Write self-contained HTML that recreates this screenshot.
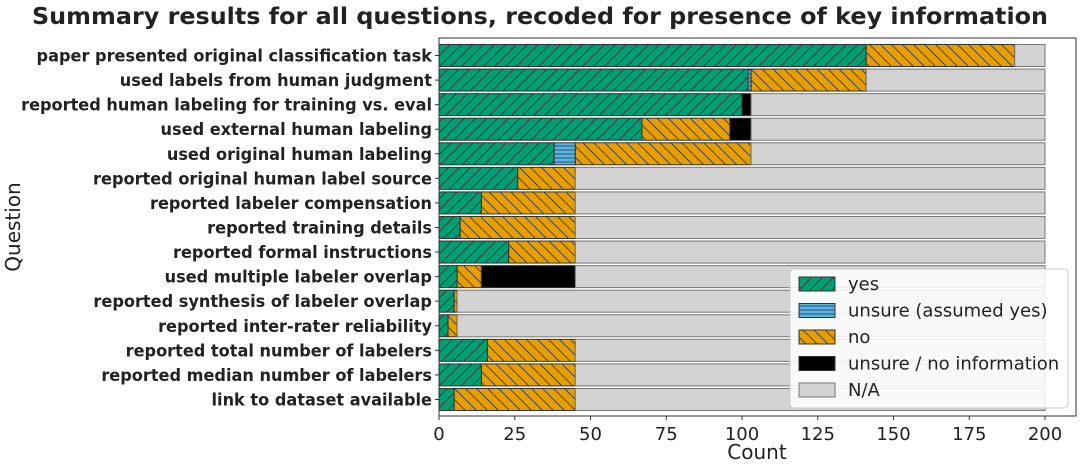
<!DOCTYPE html>
<html><head><meta charset="utf-8"><style>
body{margin:0;background:#fff;font-family:"Liberation Sans","DejaVu Sans",sans-serif;}
svg text{font-family:"DejaVu Sans","Liberation Sans",sans-serif;}
</style></head><body>
<svg id="chart" width="1080" height="467" xmlns="http://www.w3.org/2000/svg">
<defs>
<pattern id="hyes" width="11" height="11" patternUnits="userSpaceOnUse"><rect width="11" height="11" fill="#009E73"/><path d="M0,11 L11,0 M-3,3 L3,-3 M8,14 L14,8" stroke="#333" stroke-width="0.8"/></pattern>
<pattern id="hno" width="11" height="11" patternUnits="userSpaceOnUse"><rect width="11" height="11" fill="#E69F00"/><path d="M0,0 L11,11 M-3,8 L3,14 M8,-3 L14,3" stroke="#333" stroke-width="0.8"/></pattern>
<pattern id="hunsy" width="6" height="4" patternUnits="userSpaceOnUse"><rect width="6" height="4" fill="#56B4E9"/><path d="M0,2 L6,2" stroke="#333" stroke-width="0.8"/></pattern>
</defs>
<text x="540" y="24" text-anchor="middle" font-size="23.5" font-weight="bold" fill="#222" textLength="1016" lengthAdjust="spacingAndGlyphs">Summary results for all questions, recoded for presence of key information</text>
<rect x="439" y="38" width="637" height="378" fill="none" stroke="#333" stroke-width="1"/>
<g id="bars"></g>
<g id="yticks"></g>
<g id="ylabels" transform="translate(432,0) scale(0.973,1) translate(-432,0)"></g>
<g id="xticks"></g>
<text x="757" y="459" text-anchor="middle" font-size="20" fill="#222">Count</text>
<text transform="translate(20,227) rotate(-90)" text-anchor="middle" font-size="20" fill="#222">Question</text>
<g id="legend"></g>
</svg>
<script>
const categories=["paper presented original classification task","used labels from human judgment","reported human labeling for training vs. eval","used external human labeling","used original human labeling","reported original human label source","reported labeler compensation","reported training details","reported formal instructions","used multiple labeler overlap","reported synthesis of labeler overlap","reported inter-rater reliability","reported total number of labelers","reported median number of labelers","link to dataset available"];
const yesVals=[141,102,100,67,38,26,14,7,23,6,5,3,16,14,5];
const unsureYesVals=[0,1,0,0,7,0,0,0,0,0,0,0,0,0,0];
const noVals=[49,38,0,29,58,19,31,38,22,8,1,3,29,31,40];
const noInfoVals=[0,0,3,7,0,0,0,0,0,31,0,0,0,0,0];
const naVals=[10,59,97,97,97,155,155,155,155,155,194,194,155,155,155];
const xTicks=[0,25,50,75,100,125,150,175,200];
const seriesNames=["yes","unsure (assumed yes)","no","unsure / no information","N/A"];
const NS="http://www.w3.org/2000/svg";
const x=v=>439+v*(1045-439)/200;
const y=i=>55.5+i*24.57;
const bh=22;
function mk(t,a,p){const e=document.createElementNS(NS,t);for(const k in a)e.setAttribute(k,a[k]);p.appendChild(e);return e;}
const fills=["url(#hyes)","url(#hunsy)","url(#hno)","#000","#D3D3D3"];
const series=[yesVals,unsureYesVals,noVals,noInfoVals,naVals];
const keys=["yes","unsure-yes","no","no-info","na"];
const gb=document.getElementById('bars'),gl=document.getElementById('ylabels'),gt=document.getElementById('yticks'),gx=document.getElementById('xticks');
categories.forEach((c,i)=>{
  let acc=0;
  series.forEach((s,k)=>{
    const v=s[i];
    if(v>0){
      const r=mk('rect',{x:x(acc),y:y(i)-bh/2,width:x(acc+v)-x(acc),height:bh,fill:fills[k],stroke:k===4?'#777':'#333','stroke-width':1},gb);
      
      
    }
    acc+=v;
  });
  const t=mk('text',{x:432,y:y(i)+6,'text-anchor':'end','font-size':16.6,'font-weight':'bold',fill:'#222'},gl);
  t.textContent=c;
  
  
  mk('line',{x1:435,x2:439,y1:y(i),y2:y(i),stroke:'#333'},gt);
});
xTicks.forEach(v=>{
  mk('line',{x1:x(v),x2:x(v),y1:416,y2:420,stroke:'#333'},gx);
  const t=mk('text',{x:x(v),y:440,'text-anchor':'middle','font-size':18,fill:'#222'},gx);
  t.textContent=v;
  
  
});
const lg=document.getElementById('legend');
mk('rect',{x:790,y:269,width:278,height:139,rx:4,fill:'#fff','fill-opacity':0.85,stroke:'#ccc'},lg);
seriesNames.forEach((n,k)=>{
  const ly=284+k*26.5;
  const r=mk('rect',{x:799,y:ly-7,width:36,height:14,fill:fills[k],stroke:k===4?'#777':'#333'},lg);
  
  
  const t=mk('text',{x:848,y:ly+6,'font-size':18,fill:'#222'},lg);
  t.textContent=n;
  
  
});
</script>
</body></html>
